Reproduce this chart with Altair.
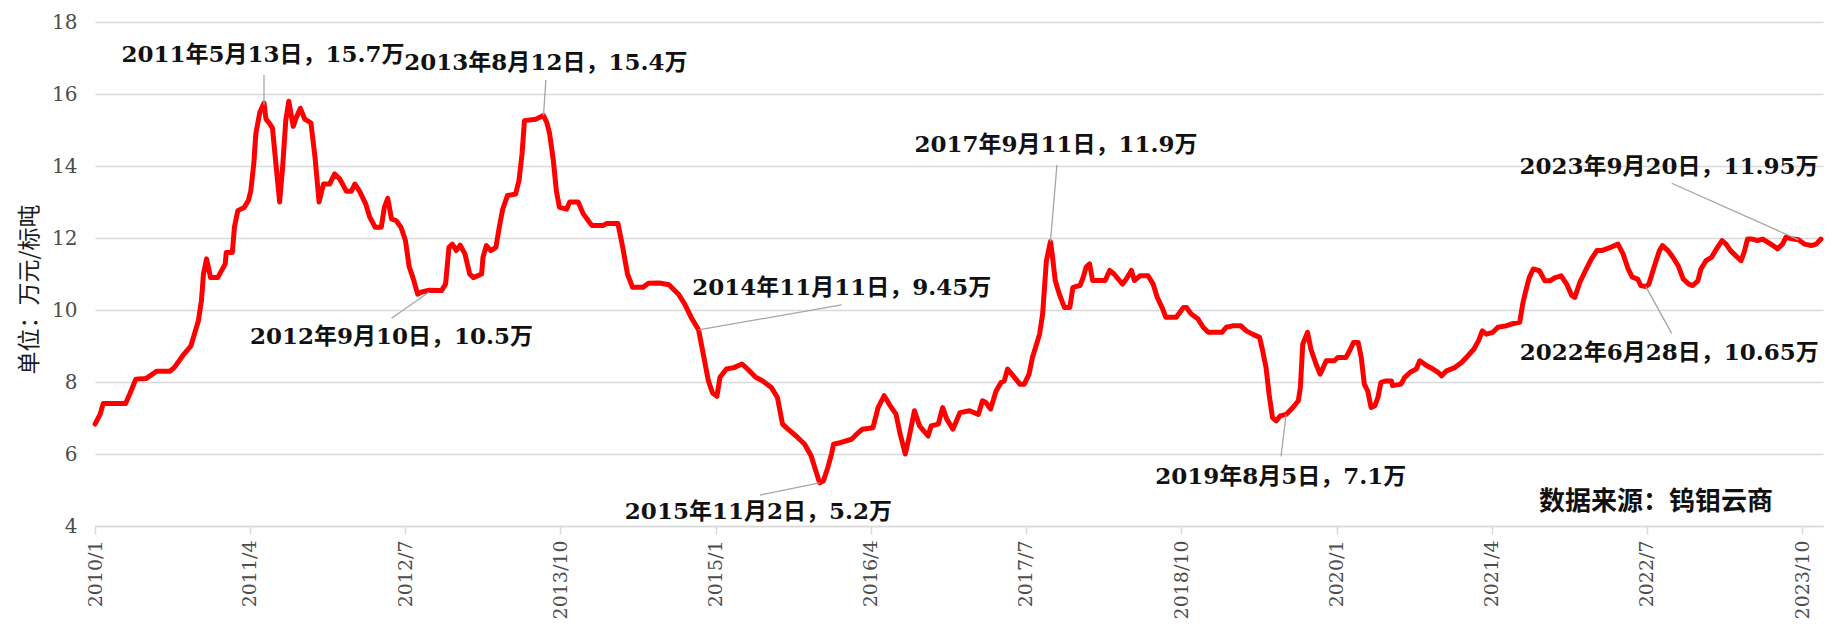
import altair as alt
import pandas as pd

# ---- price series (万元/标吨) ----
price_dates = [
    "2010-01-01", "2010-01-16", "2010-01-25", "2010-04-01", "2010-04-13", "2010-05-01", "2010-06-01",
    "2010-07-01", "2010-08-09", "2010-08-22", "2010-09-16", "2010-10-10", "2010-11-01", "2010-11-10",
    "2010-11-16", "2010-11-25", "2010-12-07", "2010-12-28",
    "2011-01-19", "2011-01-22", "2011-02-09", "2011-02-15", "2011-02-25", "2011-03-16", "2011-03-28",
    "2011-04-04", "2011-04-13", "2011-04-19", "2011-05-01", "2011-05-13", "2011-05-19", "2011-05-28",
    "2011-06-07", "2011-06-17", "2011-06-28", "2011-07-07", "2011-07-16", "2011-07-25", "2011-08-07",
    "2011-08-16", "2011-08-28", "2011-09-10", "2011-09-28", "2011-10-10", "2011-10-22", "2011-11-04",
    "2011-11-22", "2011-12-07", "2011-12-22",
    "2012-01-10", "2012-01-25", "2012-02-04", "2012-02-18", "2012-03-07", "2012-03-19", "2012-04-04",
    "2012-04-22", "2012-05-01", "2012-05-11", "2012-05-22", "2012-06-05", "2012-06-19", "2012-07-02",
    "2012-07-13", "2012-07-24", "2012-08-07", "2012-08-19", "2012-09-10", "2012-10-16", "2012-10-28",
    "2012-11-07", "2012-11-17", "2012-11-28", "2012-12-10", "2012-12-24",
    "2013-01-07", "2013-01-18", "2013-02-11", "2013-02-15", "2013-02-25", "2013-03-10", "2013-03-25",
    "2013-04-04", "2013-04-14", "2013-04-28", "2013-05-22", "2013-06-01", "2013-06-10", "2013-06-17",
    "2013-07-20", "2013-08-12", "2013-08-22", "2013-08-30", "2013-09-10", "2013-09-19", "2013-09-28",
    "2013-10-19", "2013-10-28", "2013-11-22", "2013-12-07", "2013-12-22",
    "2014-01-01", "2014-02-04", "2014-02-13", "2014-03-19", "2014-04-02", "2014-04-16", "2014-05-01",
    "2014-06-01", "2014-06-16", "2014-07-19", "2014-08-16", "2014-09-13", "2014-10-01", "2014-10-20",
    "2014-11-11", "2014-11-25", "2014-12-10", "2014-12-22",
    "2015-01-04", "2015-01-13", "2015-02-01", "2015-02-23", "2015-03-19", "2015-04-04", "2015-04-28",
    "2015-05-19", "2015-06-13", "2015-07-01", "2015-07-16", "2015-08-01", "2015-08-25", "2015-09-19",
    "2015-10-08", "2015-10-19", "2015-11-02", "2015-11-13", "2015-11-26", "2015-12-07", "2015-12-13",
    "2016-01-04", "2016-02-04", "2016-02-19", "2016-03-07", "2016-04-07", "2016-04-22", "2016-05-10",
    "2016-05-25", "2016-06-14", "2016-06-26", "2016-07-11", "2016-07-22", "2016-08-07", "2016-08-22",
    "2016-09-16", "2016-09-25", "2016-10-16", "2016-10-29", "2016-11-10", "2016-11-28", "2016-12-19",
    "2017-01-16", "2017-02-11", "2017-02-23", "2017-03-05", "2017-03-19", "2017-04-04", "2017-04-19",
    "2017-04-28", "2017-05-08", "2017-05-22", "2017-06-13", "2017-06-26", "2017-07-10", "2017-07-20",
    "2017-08-01", "2017-08-10", "2017-08-19", "2017-08-30", "2017-09-11", "2017-09-16", "2017-09-25",
    "2017-10-07", "2017-10-22", "2017-11-07", "2017-11-16", "2017-12-07", "2017-12-16", "2017-12-25",
    "2018-01-04", "2018-01-13", "2018-02-19", "2018-03-04", "2018-03-17", "2018-04-11", "2018-04-22",
    "2018-05-07", "2018-05-16", "2018-06-01", "2018-06-25", "2018-07-10", "2018-07-22", "2018-08-07",
    "2018-08-16", "2018-09-16", "2018-10-07", "2018-10-16", "2018-10-30", "2018-11-19", "2018-12-04",
    "2018-12-19",
    "2019-01-28", "2019-02-10", "2019-03-01", "2019-03-25", "2019-04-10", "2019-04-28", "2019-05-19",
    "2019-05-28", "2019-06-07", "2019-06-16", "2019-06-26", "2019-07-07", "2019-07-19", "2019-08-05",
    "2019-08-25", "2019-09-10", "2019-09-16", "2019-09-23", "2019-10-07", "2019-10-17", "2019-11-01",
    "2019-11-13", "2019-11-22", "2019-12-01", "2019-12-25",
    "2020-01-04", "2020-01-28", "2020-02-10", "2020-02-19", "2020-03-04", "2020-03-13", "2020-03-22",
    "2020-04-01", "2020-04-11", "2020-04-22", "2020-05-01", "2020-05-10", "2020-05-25", "2020-06-10",
    "2020-06-13", "2020-07-08", "2020-07-19", "2020-08-04", "2020-08-22", "2020-09-01", "2020-09-22",
    "2020-10-10", "2020-10-25", "2020-11-04", "2020-11-19", "2020-12-13",
    "2021-01-02", "2021-01-16", "2021-02-07", "2021-02-21", "2021-03-04", "2021-03-16", "2021-04-04",
    "2021-04-19", "2021-05-13", "2021-05-28", "2021-06-22", "2021-07-01", "2021-07-10", "2021-07-20",
    "2021-08-01", "2021-08-19", "2021-09-04", "2021-09-19", "2021-10-04", "2021-10-22", "2021-11-07",
    "2021-11-22", "2021-12-01", "2021-12-16",
    "2022-01-04", "2022-01-19", "2022-02-04", "2022-02-18", "2022-03-04", "2022-03-16", "2022-04-07",
    "2022-04-22", "2022-05-07", "2022-05-19", "2022-06-04", "2022-06-13", "2022-06-28", "2022-07-07",
    "2022-07-22", "2022-08-07", "2022-08-16", "2022-09-01", "2022-09-16", "2022-10-01", "2022-10-16",
    "2022-11-01", "2022-11-13", "2022-11-28", "2022-12-07", "2022-12-22",
    "2023-01-07", "2023-01-22", "2023-02-07", "2023-02-19", "2023-03-04", "2023-03-19", "2023-04-04",
    "2023-04-13", "2023-04-23", "2023-05-07", "2023-05-22", "2023-06-07", "2023-06-22", "2023-07-07",
    "2023-07-20", "2023-08-04", "2023-08-14", "2023-09-04", "2023-09-20", "2023-10-07", "2023-10-28",
    "2023-11-11", "2023-11-25",
]
price_values = [
    6.83, 7.1, 7.4, 7.4, 7.66, 8.08, 8.1,
    8.3, 8.3, 8.4, 8.73, 9.0, 9.7, 10.26,
    11.0, 11.42, 10.9, 10.9,
    11.28, 11.6, 11.6, 12.3, 12.76, 12.85, 13.04,
    13.3, 14.06, 14.9, 15.5, 15.75, 15.3, 15.2,
    15.05, 14.06, 13.0, 14.0, 15.26, 15.8, 15.1,
    15.35, 15.6, 15.3, 15.2, 14.25, 13.0, 13.5,
    13.5, 13.78, 13.64,
    13.3, 13.3, 13.5, 13.3, 12.95, 12.58, 12.3,
    12.3, 12.85, 13.1, 12.53, 12.48, 12.3, 11.93,
    11.2, 10.9, 10.44, 10.5, 10.55, 10.54, 10.72,
    11.74, 11.83, 11.65, 11.8, 11.56,
    11.0, 10.9, 11.0, 11.46, 11.79, 11.65, 11.74,
    12.3, 12.8, 13.18, 13.22, 13.6, 14.34, 15.26,
    15.3, 15.4, 15.2, 14.9, 14.15, 13.3, 12.85,
    12.8, 13.0, 13.0, 12.67, 12.48,
    12.35, 12.35, 12.4, 12.4, 11.74, 11.0, 10.63,
    10.63, 10.74, 10.75, 10.7, 10.44, 10.17, 9.8,
    9.45, 8.77, 8.03, 7.7,
    7.6, 8.13, 8.36, 8.4, 8.5, 8.36, 8.13,
    8.03, 7.85, 7.57, 6.83, 6.69, 6.5, 6.27,
    5.95, 5.62, 5.2, 5.25, 5.62, 5.99, 6.27,
    6.32, 6.41, 6.55, 6.69, 6.73, 7.29, 7.62,
    7.38, 7.1, 6.55, 6.0, 6.46, 7.2, 6.78,
    6.5, 6.78, 6.83, 7.29, 6.97, 6.69, 7.15,
    7.2, 7.1, 7.48, 7.43, 7.25, 7.75, 7.99,
    8.03, 8.36, 8.2, 7.94, 7.94, 8.22, 8.68,
    9.05, 9.33, 9.89, 11.37, 11.9, 11.56, 10.82,
    10.44, 10.07, 10.07, 10.63, 10.68, 10.9, 11.19,
    11.28, 10.82, 10.82, 11.1, 11.0, 10.72, 10.86,
    11.1, 10.82, 10.95, 10.95, 10.72, 10.35, 10.03,
    9.8, 9.8, 10.07, 10.07, 9.89, 9.75, 9.52,
    9.38,
    9.38, 9.52, 9.56, 9.56, 9.42, 9.33, 9.24,
    8.87, 8.4, 7.66, 7.01, 6.92, 7.06, 7.1,
    7.29, 7.48, 7.85, 9.05, 9.38, 8.91, 8.5,
    8.22, 8.4, 8.59, 8.59,
    8.68, 8.68, 8.91, 9.1, 9.1, 8.68, 7.94,
    7.75, 7.29, 7.34, 7.57, 7.99, 8.03, 8.03,
    7.9, 7.94, 8.13, 8.27, 8.36, 8.59, 8.45,
    8.36, 8.27, 8.17, 8.31, 8.4,
    8.54, 8.68, 8.91, 9.15, 9.42, 9.33, 9.38,
    9.52, 9.56, 9.61, 9.66, 10.17, 10.54, 10.9,
    11.14, 11.09, 10.81, 10.81, 10.9, 10.95, 10.72,
    10.4, 10.35, 10.77,
    11.14, 11.42, 11.65, 11.65, 11.7, 11.74, 11.83,
    11.56, 11.14, 10.91, 10.86, 10.68, 10.65, 10.72,
    11.19, 11.65, 11.79, 11.65, 11.46, 11.23, 10.86,
    10.72, 10.68, 10.81, 11.14, 11.37,
    11.46, 11.7, 11.93, 11.83, 11.65, 11.51, 11.37,
    11.6, 11.97, 11.97, 11.93, 11.97, 11.88, 11.79,
    11.7, 11.83, 12.02, 11.97, 11.95, 11.83, 11.79,
    11.83, 11.97,
]

# ---- annotations ----
ann_labels = [
    "2011年5月13日，15.7万",
    "2013年8月12日，15.4万",
    "2012年9月10日，10.5万",
    "2014年11月11日，9.45万",
    "2015年11月2日，5.2万",
    "2017年9月11日，11.9万",
    "2019年8月5日，7.1万",
    "2023年9月20日，11.95万",
    "2022年6月28日，10.65万",
]
ann_point_dates = ["2011-05-13", "2013-08-12", "2012-09-10", "2014-11-11", "2015-11-02",
                   "2017-09-11", "2019-08-05", "2023-09-20", "2022-06-28"]
ann_point_values = [15.7, 15.4, 10.5, 9.45, 5.2, 11.9, 7.1, 11.95, 10.65]
# label anchor (data coordinates)
ann_text_dates = ["2011-05-10", "2013-08-19", "2012-05-22", "2016-01-06", "2015-05-06",
                  "2017-09-27", "2019-07-20", "2022-09-04", "2022-09-05"]
ann_text_values = [17.08, 16.86, 9.25, 10.6, 4.40, 14.58, 5.37, 13.98, 8.80]
# leader-line start (data coordinates)
ann_leader_dates = ["2011-05-13", "2013-08-19", "2012-05-22", "2016-01-06", "2015-05-11",
                    "2017-09-30", "2019-07-21", "2022-09-12", "2022-09-12"]
ann_leader_values = [16.53, 16.39, 9.77, 10.14, 4.86, 14.03, 5.93, 13.52, 9.35]

x_tick_dates = ["2010-01", "2011-04", "2012-07", "2013-10", "2015-01", "2016-04",
                "2017-07", "2018-10", "2020-01", "2021-04", "2022-07", "2023-10"]
y_ticks = [4, 6, 8, 10, 12, 14, 16, 18]

source_text = "数据来源：钨钼云商"
y_title = "单位：万元/标吨"

# ---- build ----
price_df = pd.DataFrame({"date": pd.to_datetime(price_dates), "price": price_values})
ann_df = pd.DataFrame({
    "label": ann_labels,
    "pdate": pd.to_datetime(ann_point_dates), "pval": ann_point_values,
    "tdate": pd.to_datetime(ann_text_dates), "tval": ann_text_values,
    "ldate": pd.to_datetime(ann_leader_dates), "lval": ann_leader_values,
})

tick_values = [alt.DateTime(year=int(s[:4]), month=int(s[5:7]), date=1) for s in x_tick_dates]

SERIF = "'DejaVu Serif', 'Noto Sans CJK SC'"
CJK = "'Noto Sans CJK SC'"

x_scale = alt.Scale(domain=[alt.DateTime(year=2010, month=1, date=1),
                            alt.DateTime(year=2023, month=12, date=1)])
y_scale = alt.Scale(domain=[4, 18], nice=False, zero=False)

x_axis = alt.Axis(values=tick_values, format="%Y/%-m", labelAngle=-90,
                  labelFont=SERIF, labelFontSize=19, labelColor="#4D4D4D",
                  tickColor="#D9D9D9", tickSize=8, tickWidth=1.5,
                  domainColor="#D9D9D9", domainWidth=1.5,
                  labelPadding=6, grid=False, title=None, labelOverlap=False)
y_axis = alt.Axis(values=y_ticks, labelFont=SERIF, labelFontSize=20,
                  labelColor="#4D4D4D", ticks=False, domain=False,
                  grid=True, gridColor="#D9D9D9", gridWidth=1.5,
                  labelPadding=18, title=y_title, titleFont=CJK,
                  titleFontSize=23, titleFontWeight="normal",
                  titleColor="#1A1A1A", titleAngle=-90,
                  titleX=-66, titleY=267, titleAlign="center",
                  titleBaseline="middle")

line = alt.Chart(price_df).mark_line(
    color="#FF0000", strokeWidth=5, strokeJoin="round", strokeCap="round"
).encode(
    x=alt.X("date:T", scale=x_scale, axis=x_axis),
    y=alt.Y("price:Q", scale=y_scale, axis=y_axis),
)

leaders = alt.Chart(ann_df).mark_rule(color="#A6A6A6", strokeWidth=1.3).encode(
    x=alt.X("ldate:T", scale=x_scale, axis=x_axis),
    y=alt.Y("lval:Q", scale=y_scale, axis=y_axis),
    x2="pdate",
    y2="pval",
)

labels = alt.Chart(ann_df).mark_text(
    font=SERIF, fontSize=23, fontWeight="bold", color="#111111",
    align="center", baseline="middle"
).encode(
    x=alt.X("tdate:T", scale=x_scale, axis=x_axis),
    y=alt.Y("tval:Q", scale=y_scale, axis=y_axis),
    text="label:N",
)

source = alt.Chart(pd.DataFrame({"t": [source_text]})).mark_text(
    font=CJK, fontSize=26, fontWeight="bold", color="#111111",
    align="center", baseline="middle"
).encode(
    x=alt.value(1561), y=alt.value(480), text="t:N"
)

chart = alt.layer(line, leaders, labels, source).properties(
    width=1728, height=504,
    autosize=alt.AutoSizeParams(type="none"),
    padding={"left": 87, "top": 14, "right": 6, "bottom": 95},
).configure(background="white").configure_view(stroke=None)

chart.save("out.html", embed_options={"renderer": "svg", "actions": False})
